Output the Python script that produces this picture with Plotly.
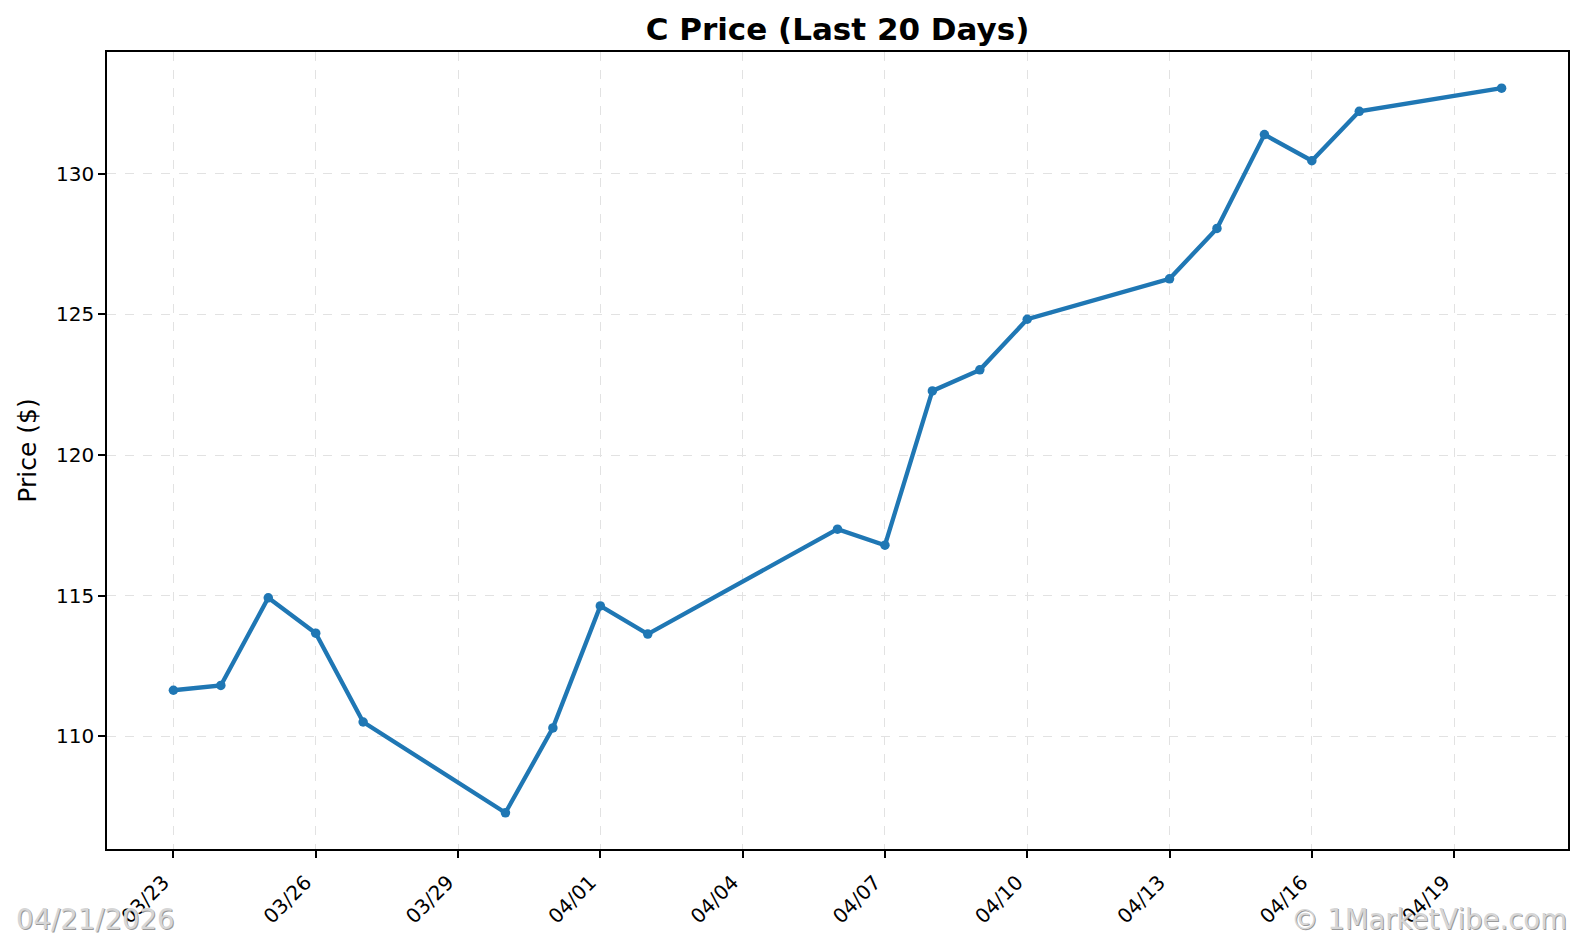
import pandas as pd
import plotly.graph_objects as go

dates = ["2026-03-23", "2026-03-24", "2026-03-25", "2026-03-26", "2026-03-27",
         "2026-03-30", "2026-03-31", "2026-04-01", "2026-04-02", "2026-04-06",
         "2026-04-07", "2026-04-08", "2026-04-09", "2026-04-10", "2026-04-13",
         "2026-04-14", "2026-04-15", "2026-04-16", "2026-04-17", "2026-04-20"]
prices = [111.63, 111.80, 114.92, 113.66, 110.50,
          107.27, 110.29, 114.63, 113.63, 117.36,
          116.79, 122.28, 123.03, 124.83, 126.27,
          128.06, 131.40, 130.47, 132.23, 133.05]
tick_dates = ["2026-03-23", "2026-03-26", "2026-03-29", "2026-04-01", "2026-04-04",
              "2026-04-07", "2026-04-10", "2026-04-13", "2026-04-16", "2026-04-19"]
tick_labels = ["03/23", "03/26", "03/29", "04/01", "04/04",
               "04/07", "04/10", "04/13", "04/16", "04/19"]
y_ticks = [110, 115, 120, 125, 130]
title = "C Price (Last 20 Days)"
date_stamp = "04/21/2026"
credit = "© 1MarketVibe.com"

d = pd.to_datetime(dates)
span = d.max() - d.min()
xr = [d.min() - 0.05 * span, d.max() + 0.05 * span]
yspan = max(prices) - min(prices)
yr = [min(prices) - 0.05 * yspan, max(prices) + 0.05 * yspan]

fig = go.Figure()
fig.add_trace(go.Scatter(
    x=d, y=prices, mode="lines+markers",
    line=dict(color="#1f77b4", width=4.3),
    marker=dict(color="#1f77b4", size=9.5),
    showlegend=False,
))

axis_common = dict(
    showline=True, linecolor="black", linewidth=1.6, mirror=True,
    ticks="outside", ticklen=7, tickwidth=1.6, tickcolor="black",
    showgrid=True, gridcolor="#e2e2e2", griddash="dash", gridwidth=1.1,
    zeroline=False, automargin=False,
    tickfont=dict(family="DejaVu Sans", size=20, color="black"),
)
fig.update_xaxes(
    type="date", range=xr,
    tickvals=pd.to_datetime(tick_dates), ticktext=tick_labels,
    tickangle=-45, ticklabelshift=-10, ticklabelstandoff=5, **axis_common,
)
fig.update_yaxes(
    range=yr, tickvals=y_ticks, ticktext=[str(v) for v in y_ticks],
    title=dict(text="Price ($)", font=dict(family="DejaVu Sans", size=25, color="black"), standoff=12),
    **axis_common,
)

wm_font = dict(family="DejaVu Sans", size=27.5)
annotations = []
for dx, dy, col in [(1.2, -1.2, "#9a9a9a"), (0, 0, "#d6d6d6")]:
    annotations.append(dict(text=date_stamp, xref="paper", yref="paper", x=0, y=0,
                            xshift=-93 + dx, yshift=-70 + dy, xanchor="left", yanchor="middle",
                            showarrow=False, font=dict(color=col, **wm_font)))
    annotations.append(dict(text=credit, xref="paper", yref="paper", x=1, y=0,
                            xshift=1 + dx, yshift=-70 + dy, xanchor="right", yanchor="middle",
                            showarrow=False, font=dict(color=col, **wm_font)))

fig.update_layout(
    width=1568, height=925,
    margin=dict(l=99, r=8, t=44, b=84, autoexpand=False),
    paper_bgcolor="white", plot_bgcolor="white",
    title=dict(text="<b>" + title + "</b>", x=(99 + 1560) / 2 / 1568, xanchor="center",
               y=1 - 21 / 925, yanchor="middle",
               font=dict(family="DejaVu Sans", size=31, color="black")),
    annotations=annotations,
)

fig.write_html("out.html")
